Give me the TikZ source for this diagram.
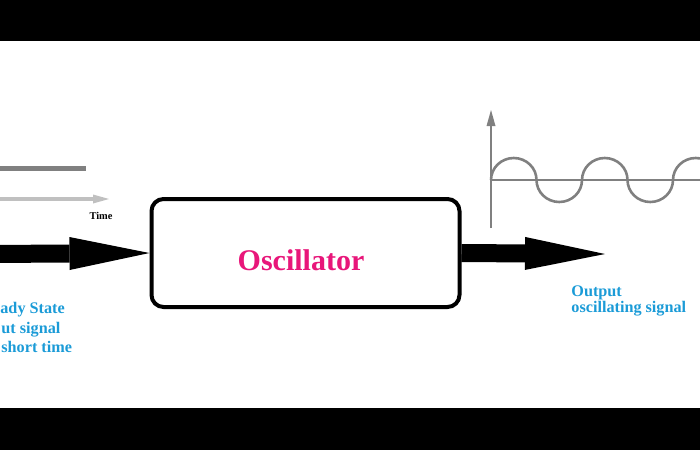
\documentclass[tikz,border=0pt]{standalone}
\usepackage{fontspec}
\setmainfont{Liberation Serif}
\usetikzlibrary{arrows.meta}

\definecolor{oscpink}{RGB}{232,22,122}
\definecolor{sigblue}{RGB}{27,155,215}
\definecolor{axisgray}{RGB}{128,128,128}
\definecolor{timegray}{RGB}{192,192,192}

\tikzset{
  fatarrow/.style={line width=9pt,line cap=butt,
    -{Triangle[length=40pt,width=16.5pt,line width=0pt]}},
  bluelabel/.style={anchor=base west,inner sep=0pt,text=sigblue,
    font=\fontsize{8.1}{9}\selectfont\bfseries},
  axisline/.style={axisgray,line width=1pt},
}

\begin{document}
\begin{tikzpicture}[x=0.5pt,y=-0.5pt,line join=round]
\useasboundingbox (0,0) rectangle (700,450);

% black bars
\fill (0,0) rectangle (700,41);
\fill (0,408) rectangle (700,450);

% oscillator block
\node[draw,line width=2pt,rounded corners=6pt,minimum width=154pt,
      minimum height=54pt,inner sep=0pt] (osc) at (305.5,253) {};
\node[anchor=base,inner sep=0pt,text=oscpink,font=\fontsize{15}{18}\selectfont\bfseries]
  (osclabel) at (301,270) {Oscillator};

% input arrow
\coordinate (in) at (-10,254);
\draw[fatarrow] (in) -- (osc.west);

% output arrow
\coordinate (out) at (605,254);
\draw[fatarrow] (osc.east) -- (out);

% input signal sketch
\coordinate (lvlA) at (0,168);
\coordinate (lvlB) at (86,168);
\draw[axisgray,line width=2.5pt] (lvlA) -- (lvlB);
\coordinate (tA) at (0,199);
\coordinate (tB) at (109,199);
\draw[timegray,line width=1.7pt,-{Triangle[length=8pt,width=4.5pt,line width=0pt]}] (tA) -- (tB);
\node[inner sep=0pt,font=\fontsize{5.2}{6}\selectfont\bfseries] (time) at (101,216) {Time};

\node[bluelabel] (inA) at (0,313) {ady State};
\node[bluelabel] (inB) at (1,333) {ut signal};
\node[bluelabel] (inC) at (1,352) {short time};

% output signal sketch
\coordinate (org) at (491,180);
\coordinate (yB) at (491,228);
\coordinate (yT) at (491,110);
\coordinate (xE) at (700,180);
\draw[axisline,-{Triangle[length=8pt,width=4.5pt,line width=0pt]}] (yB) -- (yT);
\draw[axisline] (org) -- (xE);
\begin{scope}
\clip (0,0) rectangle (700,450);
\draw[axisgray,line width=1.3pt] (org)
  foreach \k in {1,2,3} {
    arc[start angle=180,end angle=360,x radius=22.75,y radius=22]
    arc[start angle=180,end angle=0,x radius=22.75,y radius=22]
  };
\end{scope}

\node[bluelabel] (outA) at (571,296) {Output};
\node[bluelabel] (outB) at (571,312) {oscillating signal};

\end{tikzpicture}
\end{document}
